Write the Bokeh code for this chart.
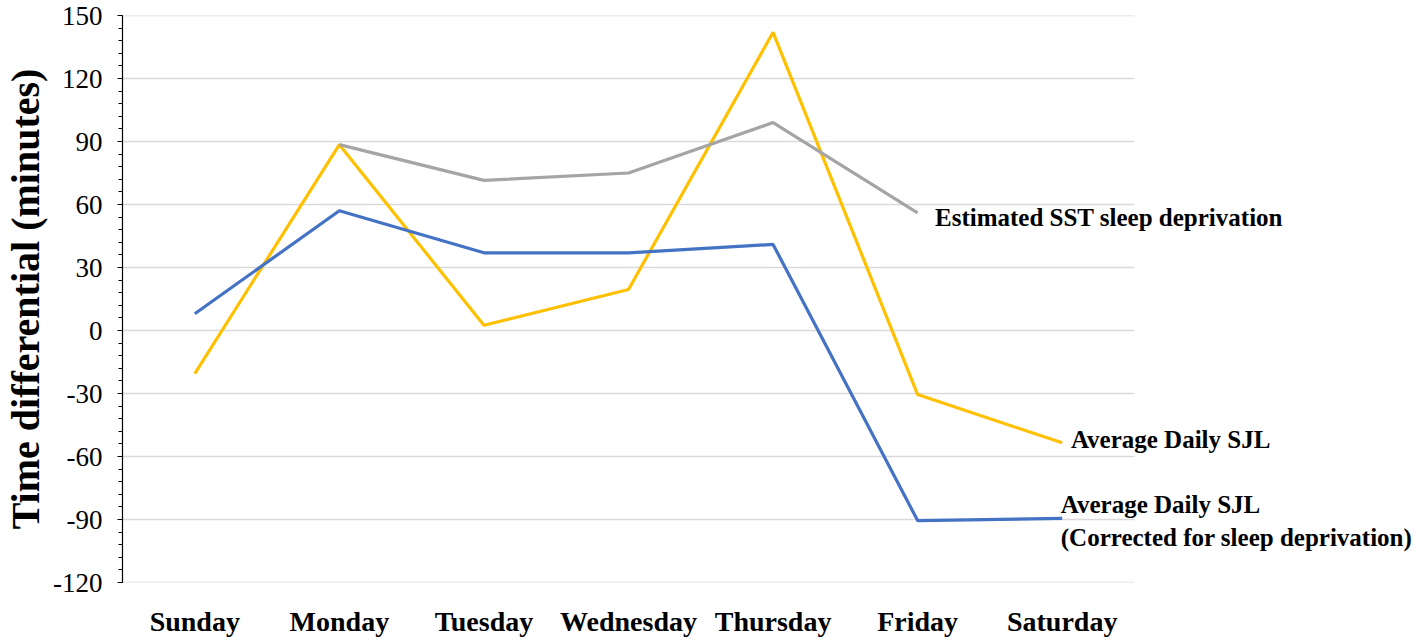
import numpy as np
from bokeh.plotting import figure
from bokeh.models import Range1d, SingleIntervalTicker, FixedTicker, Label
from bokeh.embed import file_html
from bokeh.resources import INLINE

days = ["Sunday", "Monday", "Tuesday", "Wednesday", "Thursday", "Friday", "Saturday"]
sjl_corrected = [8, 57, 37, 37, 41, -90.5, -89.5]
sjl_average = [-20.5, 88.5, 2.5, 19.5, 142, -30.5, -53.5]
sst_days = ["Monday", "Tuesday", "Wednesday", "Thursday", "Friday"]
sst_deprivation = [88.5, 71.5, 75, 99, 56]
y_ticks = [-120, -90, -60, -30, 0, 30, 60, 90, 120, 150]

label_sst = "Estimated SST sleep deprivation"
label_avg = "Average Daily SJL"
label_corr_1 = "Average Daily SJL"
label_corr_2 = "(Corrected for sleep deprivation)"
y_title = "Time differential (minutes)"

SERIF = "Liberation Serif"

# category positions (centre of each day's slot)
xpos = {d: i + 0.5 for i, d in enumerate(days)}
x_all = [xpos[d] for d in days]
x_sst = [xpos[d] for d in sst_days]
n_cat = len(days)

FRAME_W = 1294
p = figure(
    x_range=Range1d(0, FRAME_W / 144.57),
    y_range=Range1d(y_ticks[0], y_ticks[-1]),
    width=121 + FRAME_W, height=633,
    frame_width=FRAME_W, frame_height=567,
    min_border_left=121, min_border_right=0,
    min_border_top=15, min_border_bottom=51,
    output_backend="svg", toolbar_location=None,
)
p.outline_line_color = None
p.background_fill_color = "white"

# grid (limited to the category area)
p.xgrid.grid_line_color = None
p.ygrid.grid_line_color = None
p.segment(x0=[0] * len(y_ticks), x1=[n_cat] * len(y_ticks), y0=y_ticks, y1=y_ticks,
          line_color="#d9d9d9", line_width=1.5)

# y axis
p.yaxis.ticker = SingleIntervalTicker(interval=30, num_minor_ticks=5)
p.yaxis.major_label_overrides = {t: str(t) for t in y_ticks}
p.yaxis.axis_line_color = "black"
p.yaxis.axis_line_width = 1.2
p.yaxis.major_tick_line_color = "black"
p.yaxis.major_tick_out = 5
p.yaxis.major_tick_in = 0
p.yaxis.minor_tick_line_color = "black"
p.yaxis.minor_tick_out = 4
p.yaxis.minor_tick_in = 0
p.yaxis.major_label_text_font = SERIF
p.yaxis.major_label_text_font_size = "27px"
p.yaxis.major_label_text_color = "black"
p.yaxis.major_label_standoff = 15
p.yaxis.axis_label = y_title
p.yaxis.axis_label_text_font = SERIF
p.yaxis.axis_label_text_font_size = "40px"
p.yaxis.axis_label_text_font_style = "bold"
p.yaxis.axis_label_text_color = "black"
p.yaxis.axis_label_standoff = 2

# x axis
p.xaxis.ticker = FixedTicker(ticks=x_all)
p.xaxis.major_label_overrides = {xpos[d]: d for d in days}
p.xaxis.axis_line_color = None
p.xaxis.major_tick_line_color = None
p.xaxis.minor_tick_line_color = None
p.xaxis.major_label_text_font = SERIF
p.xaxis.major_label_text_font_size = "28px"
p.xaxis.major_label_text_font_style = "bold"
p.xaxis.major_label_text_color = "black"
p.xaxis.major_label_standoff = 17

# lines
p.line(x_all, sjl_average, line_color="#FFC000", line_width=3.2)
p.line(x_sst, sst_deprivation, line_color="#A5A5A5", line_width=3.2)
p.line(x_all, sjl_corrected, line_color="#4472C4", line_width=3.2)

def add_label(x, y, txt):
    p.add_layout(Label(x=x, y=y, text=txt, text_font=SERIF, text_font_size="25px",
                       text_font_style="bold", text_color="black",
                       text_baseline="middle", text_align="left"))

add_label(5.62, 54, label_sst)
add_label(6.56, -52, label_avg)
add_label(6.49, -83, label_corr_1)
add_label(6.49, -98.5, label_corr_2)

open("out.html", "w").write(file_html(p, INLINE))
